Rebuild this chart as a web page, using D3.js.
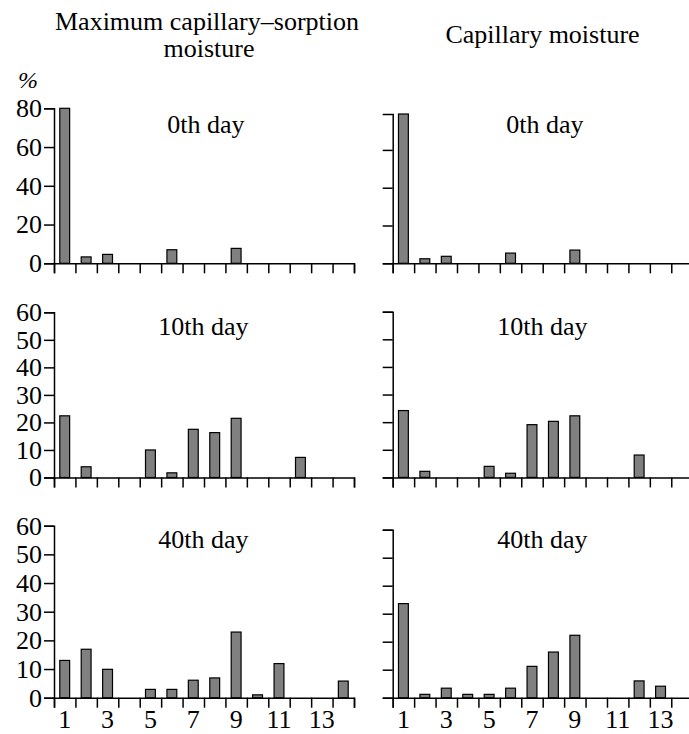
<!DOCTYPE html>
<html>
<head>
<meta charset="utf-8">
<script src="https://cdn.jsdelivr.net/npm/d3@7"></script>
</head>
<body style="margin:0; background:#fff">
<div id="canvas"></div>
<script>
// fraction numbers on the x axis
const categories = [1, 2, 3, 4, 5, 6, 7, 8, 9, 10, 11, 12, 13, 14];
const xTickLabels = [1, 3, 5, 7, 9, 11, 13];

// % per fraction (0 = no bar)
const maxCapSorption0 = [80, 3.3, 4.6, 0, 0, 7.0, 0, 0, 7.7, 0, 0, 0, 0, 0];
const capillary0 = [79, 2.4, 3.7, 0, 0, 5.4, 0, 0, 7.0, 0, 0, 0, 0, 0];
const maxCapSorption10 = [22.4, 3.9, 0, 0, 10, 1.7, 17.5, 16.3, 21.5, 0, 0, 7.3, 0, 0];
const capillary10 = [24.2, 2.2, 0, 0, 4.0, 1.5, 19.1, 20.3, 22.3, 0, 0, 8.1, 0, 0];
const maxCapSorption40 = [13, 16.9, 9.9, 0, 2.9, 2.9, 6.1, 6.9, 22.9, 1.0, 11.9, 0, 0, 5.8];
const capillary40 = [33.6, 1.2, 3.4, 1.2, 1.2, 3.4, 11.2, 16.3, 22.3, 0, 0, 6.0, 4.1, 0];

const columnTitles = [["Maximum capillary\u2013sorption", "moisture"], ["Capillary moisture"]];
const dayLabels = ["0th day", "10th day", "40th day"];

const width = 689, height = 734;
const serif = "Liberation Serif";

const svg = d3.select("#canvas")
    .append("svg")
    .attr("width", width)
    .attr("height", height)
    .style("display", "block");

// panel geometry
const columns = [
    {x0: 54, titleX: 207, titleY: 30, labelX: 206},
    {x0: 392.7, titleX: 542.5, titleY: 43, labelX: 545}
];
const plotWidth = 300;

const panels = [
    {row: 0, col: 0, data: maxCapSorption0, max: 80, top: 108.3, bottom: 263.3, ticks: [0, 20, 40, 60, 80], labels: true, labelY: 132.5},
    {row: 0, col: 1, data: capillary0, max: 79, top: 114, bottom: 263.3, ticks: [0, 20, 40, 60], labels: false, labelY: 132.5},
    {row: 1, col: 0, data: maxCapSorption10, max: 60, top: 312.3, bottom: 477.5, ticks: d3.range(0, 61, 10), labels: true, labelY: 335},
    {row: 1, col: 1, data: capillary10, max: 60, top: 311.7, bottom: 477.4, ticks: d3.range(0, 61, 10), labels: false, labelY: 335},
    {row: 2, col: 0, data: maxCapSorption40, max: 60, top: 525.7, bottom: 697.7, ticks: d3.range(0, 61, 10), labels: true, labelY: 548},
    {row: 2, col: 1, data: capillary40, max: 60, top: 529.7, bottom: 697.7, ticks: d3.range(0, 61, 10), labels: false, labelY: 548}
];

function styleAxis(g) {
    g.attr("font-family", serif).attr("font-size", 26);
    g.selectAll("path, line").attr("stroke", "#000").attr("stroke-width", 1.5);
    g.selectAll("text").attr("fill", "#000").attr("font-family", serif);
}

// column titles
columnTitles.forEach((lines, c) => {
    lines.forEach((t, i) => {
        svg.append("text")
            .attr("x", columns[c].titleX + (i > 0 ? 2 : 0))
            .attr("y", columns[c].titleY + i * 27)
            .attr("text-anchor", "middle")
            .attr("font-family", serif)
            .attr("font-size", 26)
            .text(t);
    });
});

svg.append("text")
    .attr("x", 28)
    .attr("y", 88)
    .attr("text-anchor", "middle")
    .attr("font-family", serif)
    .attr("font-size", 24)
    .attr("font-style", "italic")
    .text("%");

panels.forEach(p => {
    const x0 = columns[p.col].x0;

    const xBand = d3.scaleBand()
        .domain(categories)
        .range([x0, x0 + plotWidth])
        .paddingInner(0.54)
        .paddingOuter(0.27);

    // ticks sit on the borders between fractions
    const xEdge = d3.scaleLinear()
        .domain([0, categories.length])
        .range([x0, x0 + plotWidth]);

    const y = d3.scaleLinear()
        .domain([0, p.max])
        .range([p.bottom, p.top]);

    svg.append("g")
        .attr("transform", "translate(0," + p.bottom + ")")
        .call(d3.axisBottom(xEdge)
            .tickValues(d3.range(0, categories.length + 1))
            .tickSize(10)
            .tickSizeOuter(10)
            .tickFormat(""))
        .call(styleAxis);

    if (p.row === 2) {
        svg.append("g")
            .attr("transform", "translate(0," + p.bottom + ")")
            .call(d3.axisBottom(xBand)
                .tickValues(xTickLabels)
                .tickSize(0)
                .tickPadding(12))
            .call(g => g.select(".domain").remove())
            .call(styleAxis);
    }

    const yAxis = d3.axisLeft(y)
        .tickValues(p.ticks)
        .tickSize(10)
        .tickSizeOuter(10)
        .tickPadding(2);
    if (!p.labels) yAxis.tickFormat("");

    svg.append("g")
        .attr("transform", "translate(" + x0 + ",0)")
        .call(yAxis)
        .call(styleAxis);

    svg.append("g")
        .selectAll("rect")
        .data(categories.map((c, i) => ({cat: c, value: p.data[i]})).filter(d => d.value > 0))
        .enter()
        .append("rect")
        .attr("x", d => xBand(d.cat))
        .attr("y", d => y(d.value))
        .attr("width", xBand.bandwidth())
        .attr("height", d => y(0) - y(d.value))
        .attr("fill", "#808080")
        .attr("stroke", "#000")
        .attr("stroke-width", 1.2);

    svg.append("text")
        .attr("x", columns[p.col].labelX - (p.row > 0 ? 2.5 : 0))
        .attr("y", p.labelY)
        .attr("text-anchor", "middle")
        .attr("font-family", serif)
        .attr("font-size", 26)
        .text(dayLabels[p.row]);
});
</script>
</body>
</html>
